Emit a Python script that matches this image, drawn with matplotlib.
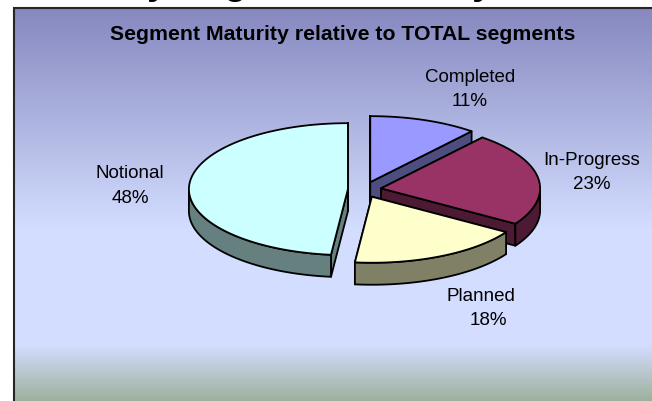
import numpy as np
import matplotlib
matplotlib.use('Agg')
import matplotlib.pyplot as plt
from matplotlib.colors import LinearSegmentedColormap
from matplotlib.patches import Polygon

categories = ['Completed', 'In-Progress', 'Planned', 'Notional']
shares = [11, 23, 17.7, 48.3]
top_colors = ['#9999FF', '#993366', '#FFFFCC', '#CCFFFF']
side_colors = ['#4D4D80', '#4D1A33', '#808066', '#668080']
name_pos = [(470, 78), (592, 161), (481, 297), (130, 174)]
pct_pos = [(470, 102), (592, 185), (488, 321), (130, 199)]

title = 'Segment Maturity relative to TOTAL segments'
cut_heading = 'y Segment Maturity'

W, H = 652, 402
CX, CY = 364.6, 190.6
RX, RY = 159, 66
DEPTH = 22
EXPLODE = 0.105
LEFT, TOP = 14, 9

plt.rcParams['font.family'] = ['Liberation Sans', 'DejaVu Sans']

fig = plt.figure(figsize=(W / 100, H / 100), dpi=100)
ax = fig.add_axes([0, 0, 1, 1])
ax.set_xlim(0, W)
ax.set_ylim(H, 0)
ax.axis('off')

# panel background
stops = [(0.0, '#8688BF'), (0.56, '#D3DDFF'), (0.86, '#D3DDFF'), (1.0, '#9DB19E')]
cmap = LinearSegmentedColormap.from_list('panel', stops)
grad = np.linspace(0, 1, 256).reshape(-1, 1)
ax.imshow(grad, cmap=cmap, aspect='auto', extent=[LEFT, W, H, TOP], zorder=0)
ax.set_xlim(0, W)
ax.set_ylim(H, 0)
ax.plot([LEFT, LEFT, W], [H, TOP, TOP], color='#262626', lw=1.5, zorder=1,
        solid_joinstyle='miter')

# heading is cropped by the top of the picture, only its descenders show
ax.text(320, -6, cut_heading, ha='center', va='baseline', fontsize=27,
        fontweight='bold', color='black', clip_on=False)
ax.text(342.5, 34, title, ha='center', va='center', fontsize=15.3,
        fontweight='bold', color='black')


def rim(cx, cy, a0, a1, dy=0):
    # angles are clockwise from 12 o'clock
    t = np.radians(np.linspace(a0, a1, max(int(abs(a1 - a0)) * 2, 2)))
    return np.column_stack([cx + RX * np.sin(t), cy - RY * np.cos(t) + dy])


def draw_slice(a0, a1, top, side, z):
    mid = np.radians((a0 + a1) / 2)
    cx = CX + EXPLODE * RX * np.sin(mid)
    cy = CY - 0.12 * RY * np.cos(mid)
    style = dict(edgecolor='black', lw=1.3, joinstyle='round', zorder=z)

    # cut faces first, the top hides whichever of them face away
    for a in (a0, a1):
        p = rim(cx, cy, a, a)[0]
        ax.add_patch(Polygon([(cx, cy), p, (p[0], p[1] + DEPTH), (cx, cy + DEPTH)],
                             facecolor=side, **style))

    # outer wall, only the front half of the ellipse shows
    w0, w1 = max(a0, 90), min(a1, 270)
    if w1 > w0:
        upper = rim(cx, cy, w0, w1)
        lower = rim(cx, cy, w0, w1, DEPTH)[::-1]
        ax.add_patch(Polygon(np.vstack([upper, lower]), facecolor=side, **style))

    pts = np.vstack([[(cx, cy)], rim(cx, cy, a0, a1)])
    ax.add_patch(Polygon(pts, facecolor=top, **style))


ends = np.cumsum(shares) / np.sum(shares) * 360
starts = np.concatenate([[0], ends[:-1]])
for i, z in zip([0, 3, 1, 2], [2, 3, 4, 5]):
    draw_slice(starts[i], ends[i], top_colors[i], side_colors[i], z)

for name, val, (x, y), (px, py) in zip(categories, shares, name_pos, pct_pos):
    ax.text(x, y, name, ha='center', va='center', fontsize=13.5, color='black', zorder=6)
    ax.text(px, py, '%.0f%%' % val, ha='center', va='center', fontsize=13.5,
            color='black', zorder=6)

plt.savefig('out.png', dpi=100)
